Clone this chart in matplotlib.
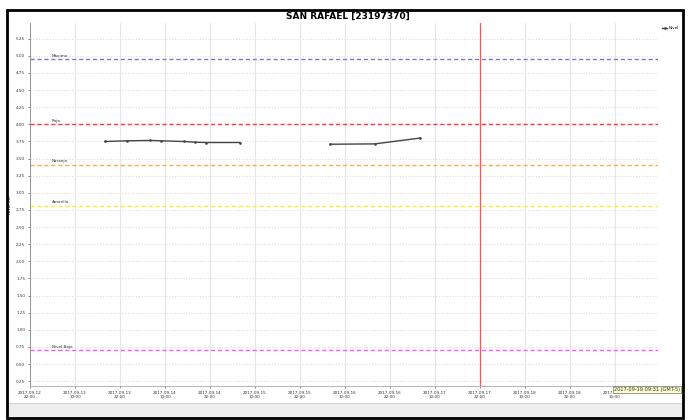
import matplotlib
matplotlib.use("Agg")
import matplotlib.pyplot as plt
from matplotlib.patches import Rectangle
from datetime import datetime, timedelta

title = "SAN RAFAEL [23197370]"
ylabel = "Nivel (m)"
series_name = "Nivel"

seg1_times = ["2017-09-13 18:00", "2017-09-14 00:00", "2017-09-14 06:00", "2017-09-14 09:00",
              "2017-09-14 15:00", "2017-09-14 18:00", "2017-09-14 21:00", "2017-09-15 06:00"]
seg1_vals = [3.75, 3.76, 3.765, 3.76, 3.75, 3.74, 3.735, 3.735]
seg2_times = ["2017-09-16 06:00", "2017-09-16 18:00", "2017-09-17 06:00"]
seg2_vals = [3.71, 3.715, 3.80]

thr_names = ["Maximo", "Roja", "Naranja", "Amarilla", "Nivel Bajo"]
thr_vals = [4.95, 4.00, 3.41, 2.81, 0.70]
thr_colors = ["#7b7bc4", "#ff3b3b", "#ffaa44", "#f2ef3a", "#ff55ff"]

yticks = [0.25 * i for i in range(1, 22)]
xtick_times = ["2017-09-12 22:00", "2017-09-13 10:00", "2017-09-13 22:00", "2017-09-14 10:00",
               "2017-09-14 22:00", "2017-09-15 10:00", "2017-09-15 22:00", "2017-09-16 10:00",
               "2017-09-16 22:00", "2017-09-17 10:00", "2017-09-17 22:00", "2017-09-18 10:00",
               "2017-09-18 22:00", "2017-09-19 10:00"]
now_line = "2017-09-17 22:00"
x_start = "2017-09-12 22:00"
x_end = "2017-09-19 21:30"
tooltip = "2017-09-19 09:31 (GMT-5)"

fmt = "%Y-%m-%d %H:%M"
P = lambda s: datetime.strptime(s, fmt)

fig = plt.figure(figsize=(6.89, 4.20), dpi=100)
W, H = 689, 420
# bottom gray band and outer frame
fig.patches.append(Rectangle((8 / W, 3 / H), (682 - 8) / W, (17 - 3) / H, transform=fig.transFigure,
                             facecolor="#eeeeee", edgecolor="#cccccc", linewidth=0.6))
fig.patches.append(Rectangle((7 / W, 2 / H), (683 - 7) / W, (410 - 2) / H, transform=fig.transFigure,
                             fill=False, edgecolor="black", linewidth=2.0))

ax = fig.add_axes([30 / W, (420 - 386) / H, (658 - 30) / W, (386 - 23) / H])
ax.set_xlim(P(x_start), P(x_end))
ax.set_ylim(0.18, 5.48)

for v in yticks:
    ax.axhline(v, color="#dddddd", linestyle=(0, (1, 1.5)), linewidth=0.8, zorder=0)
for t in xtick_times:
    ax.axvline(P(t), color="#e6e6e6", linestyle="-", linewidth=0.8, zorder=0)

lbl_x = P(x_start) + timedelta(hours=5.9)
for n, v, c in zip(thr_names, thr_vals, thr_colors):
    ax.axhline(v, color=c, linestyle=(0, (3, 2)), linewidth=1.0, zorder=1)
    ax.text(lbl_x, v + 0.02, n, fontsize=3, va="bottom", ha="left", color="#333333")

ax.axvline(P(now_line), color="#ff5555", linewidth=0.9, zorder=2)

ax.plot([P(t) for t in seg1_times], seg1_vals, color="#444444", linewidth=1.0, marker="o",
        markersize=0.9, zorder=3, label=series_name)
ax.plot([P(t) for t in seg2_times], seg2_vals, color="#444444", linewidth=1.0, marker="o",
        markersize=0.9, zorder=3)

ax.set_yticks(yticks)
ax.set_yticklabels([f"{v:.2f}" for v in yticks], fontsize=3)
ax.set_xticks([P(t) for t in xtick_times])
ax.set_xticklabels([t.replace(" ", "\n") for t in xtick_times], fontsize=3)
ax.tick_params(length=1.5, width=0.4, pad=2, colors="#333333")
for s in ["top", "right"]:
    ax.spines[s].set_visible(False)
ax.spines["left"].set_color("#888888")
ax.spines["bottom"].set_color("#aaaaaa")
ax.spines["left"].set_linewidth(0.6)
ax.spines["bottom"].set_linewidth(0.6)
ax.set_ylabel(ylabel, fontsize=3, labelpad=3)

fig.text(348 / W, 1 - 16 / H, title, fontsize=6.5, fontweight="bold", ha="center", va="center")

# legend
leg = fig.legend(loc="upper left", bbox_to_anchor=(660 / W, 1 - 24 / H), fontsize=3, frameon=False,
                 handlelength=1.2, handletextpad=0.3, borderpad=0)

# tooltip
fig.text(614 / W, 1 - 389.5 / H, tooltip, fontsize=3.6, ha="left", va="center", color="#333333",
         bbox=dict(boxstyle="square,pad=0.2", facecolor="#fdfbd0", edgecolor="#777755", linewidth=0.5))

fig.savefig("out.png", dpi=100)
